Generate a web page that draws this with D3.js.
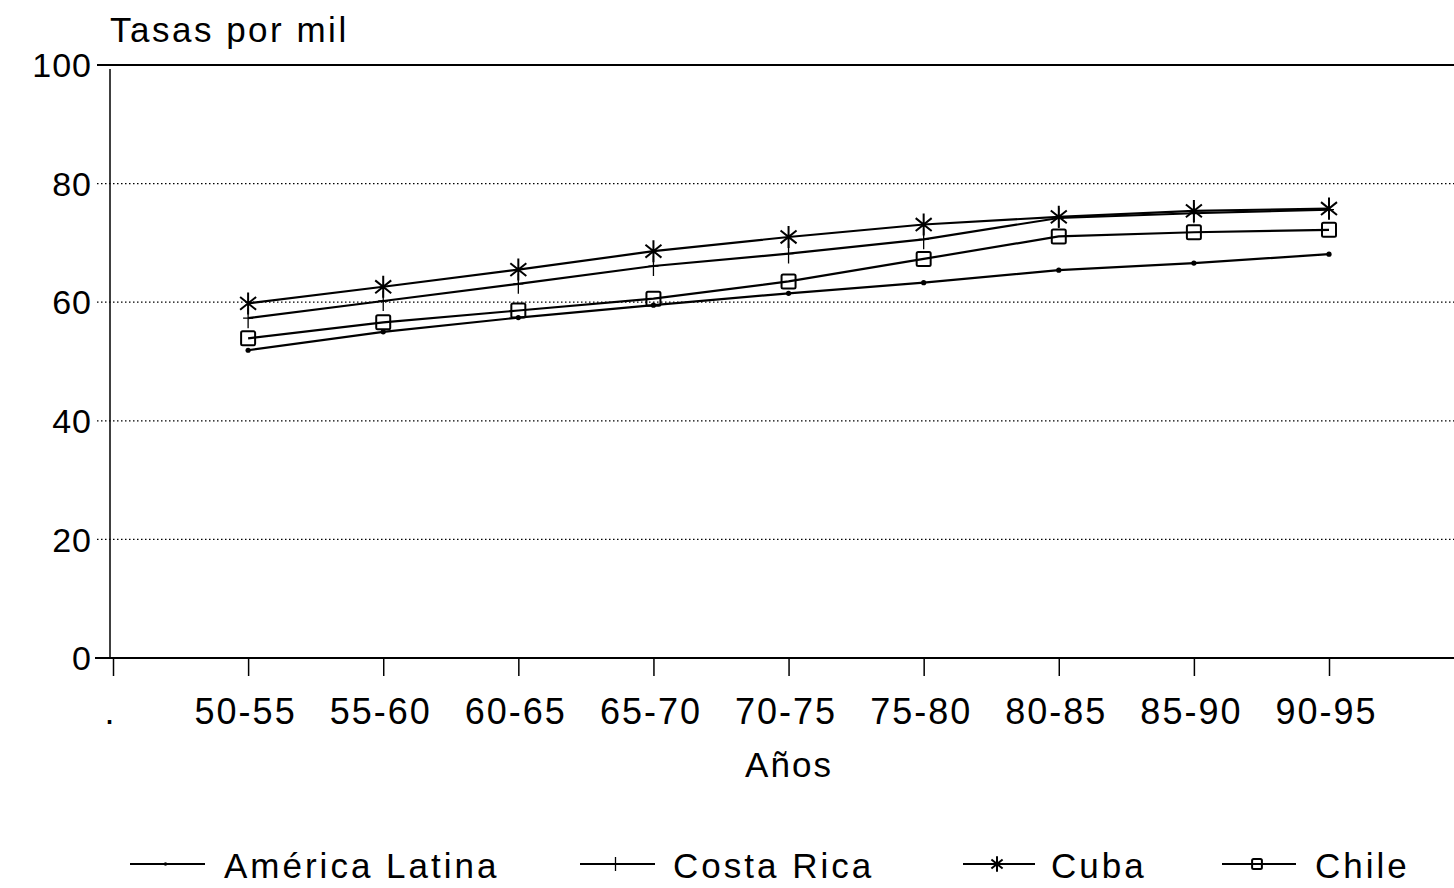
<!DOCTYPE html>
<html>
<head>
<meta charset="utf-8">
<script src="https://cdn.jsdelivr.net/npm/d3@7/dist/d3.min.js"></script>
<style>
  html, body { margin: 0; padding: 0; background: #fff; }
  svg { display: block; }
  text { font-family: "Liberation Sans", Arial, Helvetica, sans-serif; fill: #000; }
</style>
</head>
<body>
<svg id="chart" width="1454" height="888"></svg>
<script>
// ---- data ----
const xLabels = [".", "50-55", "55-60", "60-65", "65-70", "70-75", "75-80", "80-85", "85-90", "90-95"];
const periods = ["50-55", "55-60", "60-65", "65-70", "70-75", "75-80", "80-85", "85-90", "90-95"];
const americaLatina = [51.9, 55.0, 57.4, 59.5, 61.5, 63.3, 65.4, 66.6, 68.1];
const costaRica     = [57.3, 60.2, 63.1, 66.1, 68.2, 70.6, 74.2, 75.0, 75.6];
const cuba          = [59.8, 62.6, 65.5, 68.6, 71.0, 73.1, 74.4, 75.4, 75.8];
const chile         = [53.9, 56.6, 58.6, 60.6, 63.5, 67.3, 71.1, 71.8, 72.2];
const seriesNames = ["América Latina", "Costa Rica", "Cuba", "Chile"];
const yTicks = [0, 20, 40, 60, 80, 100];
const yTitle = "Tasas por mil";
const xTitle = "Años";

// ---- layout ----
const svg = d3.select("#chart");
const plotLeft = 110, plotRight = 1454, plotTop = 65, plotBottom = 658;
const x = d3.scalePoint().domain(xLabels).range([113, 1329]);
const y = d3.scaleLinear().domain([0, 100]).range([plotBottom, plotTop]);

const series = [
  { name: seriesNames[0], values: americaLatina, marker: "dot" },
  { name: seriesNames[1], values: costaRica, marker: "plus" },
  { name: seriesNames[2], values: cuba, marker: "star" },
  { name: seriesNames[3], values: chile, marker: "square" }
];

// gridlines (dotted) for inner ticks
svg.append("g").selectAll("line")
  .data(yTicks.filter(d => d > 0 && d < 100))
  .join("line")
  .attr("x1", 97).attr("x2", plotRight)
  .attr("y1", d => y(d)).attr("y2", d => y(d))
  .attr("stroke", "#000").attr("stroke-width", 1.2)
  .attr("stroke-dasharray", "1.5,2.5");

// top line at 100 and bottom axis at 0
svg.append("line").attr("x1", 97).attr("x2", plotRight)
  .attr("y1", y(100)).attr("y2", y(100)).attr("stroke", "#000").attr("stroke-width", 2);
svg.append("line").attr("x1", 95).attr("x2", plotRight)
  .attr("y1", y(0)).attr("y2", y(0)).attr("stroke", "#000").attr("stroke-width", 2);
// left axis line
svg.append("line").attr("x1", plotLeft).attr("x2", plotLeft)
  .attr("y1", y(100) + 4).attr("y2", y(0)).attr("stroke", "#000").attr("stroke-width", 1.5);

// y tick labels
svg.append("g").selectAll("text")
  .data(yTicks).join("text")
  .attr("x", 92).attr("y", d => y(d))
  .attr("dy", "0.36em")
  .attr("text-anchor", "end")
  .style("font-size", "34px").style("letter-spacing", "1px")
  .text(d => d);

// x axis ticks and labels
const xAxis = d3.axisBottom(x).tickSize(18).tickPadding(22);
const gx = svg.append("g").attr("transform", `translate(0,${plotBottom})`).call(xAxis);
gx.select(".domain").remove();
gx.selectAll(".tick line").attr("stroke", "#000").attr("stroke-width", 1.5);
gx.selectAll(".tick text")
  .attr("fill", "#000")
  .style("font-family", "'Liberation Sans', Arial, sans-serif")
  .style("font-size", "36px").style("letter-spacing", "2px")
  .attr("dx", "-3");

// axis titles
svg.append("text").attr("x", 110).attr("y", 42)
  .style("font-size", "35px").style("letter-spacing", "2.5px").text(yTitle);
svg.append("text").attr("x", 789).attr("y", 777).attr("text-anchor", "middle")
  .style("font-size", "35px").style("letter-spacing", "2px").text(xTitle);

// markers
function drawMarker(g, type, cx, cy, s) {
  if (type === "dot") {
    g.append("circle").attr("cx", cx).attr("cy", cy).attr("r", 2.6 * s).attr("fill", "#000");
  } else if (type === "plus") {
    g.append("path").attr("d", `M${cx},${cy - 10 * s}V${cy + 10 * s}M${cx - 5 * s},${cy}H${cx + 5 * s}`)
      .attr("stroke", "#000").attr("stroke-width", 1.3).attr("fill", "none");
  } else if (type === "star") {
    const r = 11 * s, d = 8 * s;
    g.append("path").attr("d",
      `M${cx},${cy - r}V${cy + r}M${cx - d},${cy - d * 0.8}L${cx + d},${cy + d * 0.8}M${cx - d},${cy + d * 0.8}L${cx + d},${cy - d * 0.8}`)
      .attr("stroke", "#000").attr("stroke-width", 2).attr("fill", "none");
  } else if (type === "square") {
    const h = 7 * s;
    g.append("rect").attr("x", cx - h).attr("y", cy - h).attr("width", 2 * h).attr("height", 2 * h)
      .attr("rx", 1.5).attr("fill", "none").attr("stroke", "#000").attr("stroke-width", 2);
  }
}

const line = d3.line().x((d, i) => x(periods[i])).y(d => y(d));
series.forEach(s => {
  const g = svg.append("g");
  g.append("path").datum(s.values).attr("d", line)
    .attr("fill", "none").attr("stroke", "#000").attr("stroke-width", 2.2);
  s.values.forEach((v, i) => drawMarker(g, s.marker, x(periods[i]), y(v), 1));
});

// legend
const legendY = 864;
const legendItems = [
  { x0: 130, x1: 205, tx: 224 },
  { x0: 580, x1: 655, tx: 673 },
  { x0: 963, x1: 1035, tx: 1051 },
  { x0: 1222, x1: 1296, tx: 1315 }
];
series.forEach((s, i) => {
  const it = legendItems[i];
  const g = svg.append("g");
  g.append("line").attr("x1", it.x0).attr("x2", it.x1).attr("y1", legendY).attr("y2", legendY)
    .attr("stroke", "#000").attr("stroke-width", 2);
  drawMarker(g, s.marker, (it.x0 + it.x1) / 2 - 2, legendY, 0.7);
  g.append("text").attr("x", it.tx).attr("y", 878)
    .style("font-size", "35px").style("letter-spacing", "3px").text(s.name);
});
</script>
</body>
</html>
